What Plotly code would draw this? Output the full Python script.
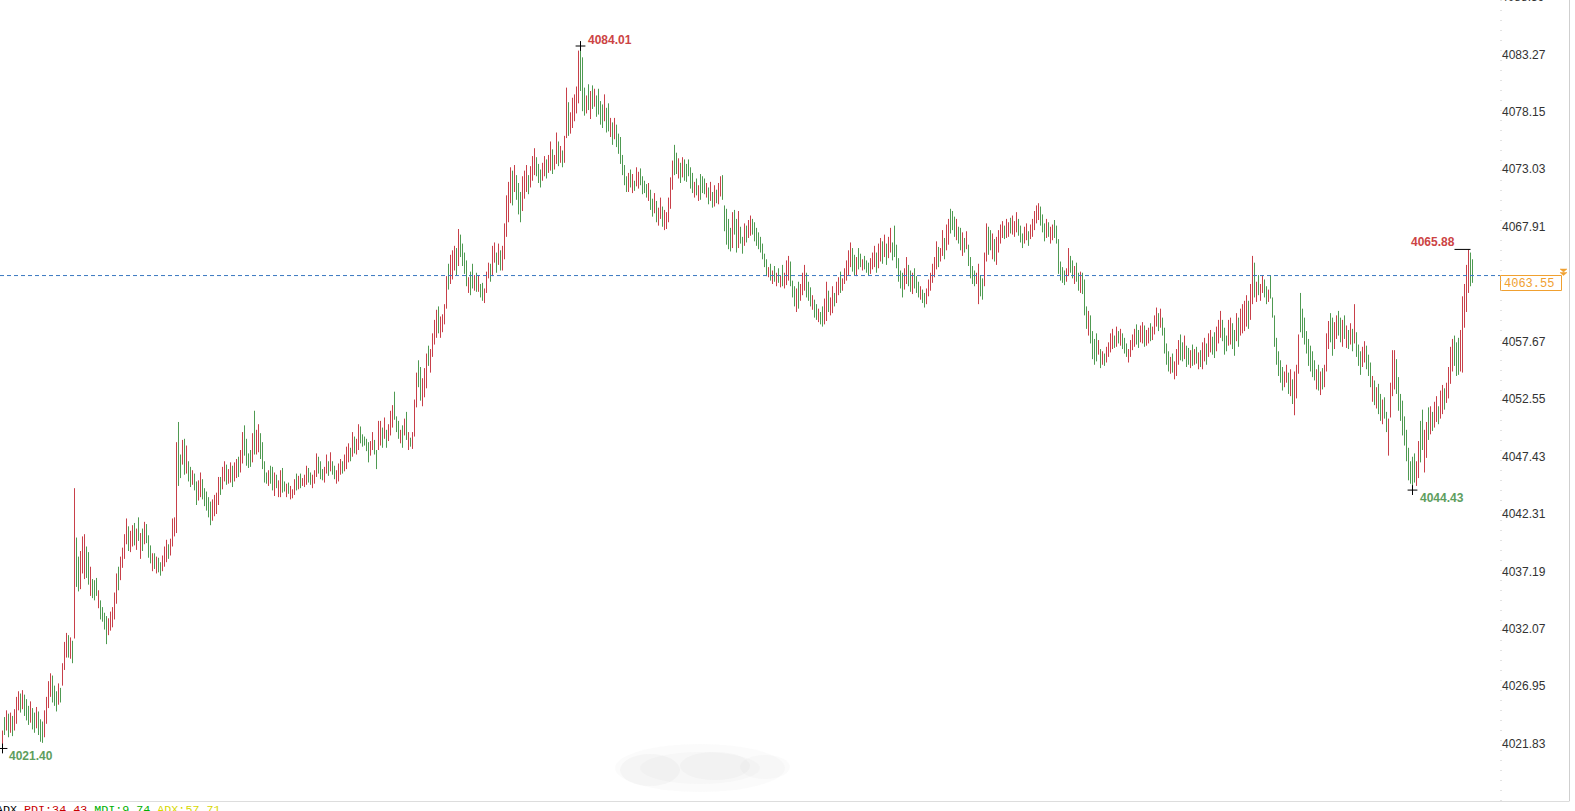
import plotly.graph_objects as go

# ---------------- data ----------------
high = [
    4023.0, 4024.2, 4024.8, 4024.5, 4024.6, 4024.3, 4024.9, 4026.0, 4026.5, 4026.3,
    4026.6, 4026.2, 4025.8, 4025.2, 4025.6, 4025.0, 4024.6, 4025.1, 4024.7, 4024.0,
    4023.8, 4024.8, 4026.0, 4027.4, 4028.1, 4027.9, 4027.0, 4026.5, 4027.2, 4026.8,
    4029.0, 4030.9, 4031.7, 4031.5, 4031.3, 4031.0, 4044.6, 4040.2, 4038.5, 4039.0,
    4040.3, 4040.5, 4039.4, 4038.9, 4037.6, 4036.5, 4036.4, 4036.6, 4035.5, 4034.6,
    4034.0, 4033.5, 4033.2, 4033.0, 4033.6, 4034.0, 4035.3, 4037.0, 4037.6, 4038.5,
    4039.3, 4040.5, 4041.9, 4041.2, 4040.8, 4041.3, 4041.5, 4041.0, 4042.0, 4040.6,
    4041.0, 4041.6, 4041.4, 4040.4, 4039.5, 4038.8, 4038.8, 4038.5, 4038.4, 4038.0,
    4038.6, 4039.4, 4040.0, 4039.6, 4040.1, 4041.9, 4042.0, 4048.7, 4050.5, 4047.6,
    4048.9, 4049.0, 4048.4, 4047.0, 4046.5, 4046.2, 4045.9, 4045.2, 4045.3, 4046.0,
    4045.4, 4044.6, 4044.3, 4043.8, 4043.4, 4043.6, 4044.0, 4044.2, 4045.6, 4045.6,
    4046.5, 4047.0, 4046.7, 4046.3, 4046.9, 4046.6, 4046.9, 4047.2, 4047.4, 4048.0,
    4049.6, 4050.2, 4049.0, 4047.7, 4048.0, 4049.5, 4051.5, 4049.8, 4050.3, 4049.5,
    4048.7, 4047.0, 4046.0, 4046.2, 4046.6, 4046.5, 4046.0, 4045.8, 4045.3, 4046.2,
    4046.4, 4045.2, 4045.0, 4045.1, 4044.8, 4044.5, 4045.4, 4045.9, 4045.7, 4045.9,
    4045.5, 4045.8, 4046.6, 4046.4, 4046.0, 4045.8, 4046.2, 4047.7, 4047.4, 4047.0,
    4046.3, 4046.5, 4047.6, 4047.0, 4047.8, 4047.0, 4046.6, 4046.2, 4046.8, 4047.2,
    4047.0, 4047.6, 4048.3, 4048.6, 4048.2, 4049.6, 4049.2, 4049.0, 4050.3, 4050.1,
    4049.4, 4049.2, 4049.0, 4048.7, 4048.8, 4049.6, 4048.9, 4048.0, 4050.6, 4050.6,
    4050.0, 4050.9, 4049.8, 4050.3, 4051.5, 4052.0, 4053.2, 4051.0, 4050.6, 4049.8,
    4050.2, 4050.8, 4051.4, 4049.6, 4049.1, 4049.6, 4052.5, 4054.9, 4056.0, 4055.4,
    4054.4, 4055.3, 4056.6, 4057.3, 4057.0, 4058.4, 4059.6, 4060.5, 4060.8, 4059.9,
    4060.1, 4061.0, 4063.5, 4064.6, 4065.4, 4065.8, 4066.2, 4066.0, 4067.7, 4067.2,
    4066.4, 4065.6, 4064.9, 4063.4, 4063.9, 4064.6, 4063.6, 4063.8, 4063.6, 4062.8,
    4062.9, 4062.4, 4063.9, 4064.7, 4064.6, 4066.2, 4066.5, 4065.6, 4066.4, 4065.8,
    4066.2, 4068.2, 4070.7, 4071.9, 4073.2, 4072.9, 4073.4, 4072.5, 4071.8, 4071.0,
    4072.4, 4072.9, 4073.4, 4072.5, 4073.3, 4074.2, 4074.9, 4074.1, 4073.5, 4073.0,
    4073.6, 4074.2, 4073.9, 4074.3, 4075.5, 4074.8, 4074.3, 4076.3, 4075.5, 4075.1,
    4074.7, 4076.0, 4080.3, 4079.0, 4078.1, 4079.4, 4079.7, 4080.4, 4083.6, 4084.01,
    4083.0, 4080.3, 4079.6, 4080.6, 4080.0, 4080.5, 4080.2, 4079.6, 4080.2, 4079.1,
    4078.8, 4079.7, 4078.5, 4078.9, 4077.6, 4077.2, 4077.6, 4077.0, 4076.2, 4075.9,
    4074.3, 4073.4, 4072.4, 4072.7, 4073.0, 4072.6, 4072.0, 4073.2, 4072.8, 4073.1,
    4072.4, 4072.0, 4071.7, 4071.8, 4071.2, 4070.4, 4070.9, 4070.2, 4069.6, 4070.5,
    4069.7, 4069.4, 4069.2, 4070.5, 4072.3, 4073.8, 4075.2, 4074.5, 4074.0, 4073.6,
    4074.1, 4073.9, 4073.5, 4073.9, 4073.2, 4072.7, 4071.9, 4072.2, 4071.6, 4072.6,
    4072.4, 4072.2, 4071.8, 4071.4, 4071.9, 4071.0, 4071.6, 4071.2, 4071.8, 4072.4,
    4072.5, 4069.8, 4069.5, 4068.6, 4067.8, 4069.2, 4069.4, 4068.6, 4069.3, 4067.9,
    4067.0, 4068.2, 4068.0, 4068.5, 4068.9, 4068.6, 4068.3, 4067.8, 4067.4, 4067.0,
    4066.4, 4065.5, 4065.0, 4064.3, 4064.6, 4064.0, 4064.4, 4063.8, 4064.2, 4063.6,
    4064.5, 4063.8, 4064.9, 4065.3, 4064.8, 4063.1, 4062.6, 4062.4, 4063.0, 4062.8,
    4063.8, 4064.5, 4063.8, 4063.0, 4062.5, 4061.8, 4061.4, 4061.0, 4060.6, 4060.3,
    4060.8, 4061.5, 4063.0, 4062.2, 4061.6, 4062.6, 4062.0, 4063.0, 4063.4, 4063.9,
    4063.3, 4064.2, 4064.9, 4065.8, 4066.5, 4066.0, 4065.4, 4065.2, 4066.0, 4065.5,
    4065.0, 4065.3, 4064.9, 4064.7, 4065.1, 4065.6, 4066.2, 4065.6, 4066.4, 4066.9,
    4066.6, 4067.2, 4066.4, 4067.0, 4067.8, 4066.5, 4068.0, 4066.3, 4065.1, 4064.0,
    4063.8, 4064.2, 4065.2, 4064.5, 4064.0, 4063.8, 4064.2, 4063.5, 4063.0, 4062.6,
    4062.3, 4062.0, 4062.4, 4063.2, 4063.8, 4064.6, 4065.2, 4066.6, 4066.1, 4066.0,
    4067.6, 4066.9, 4068.1, 4068.6, 4069.5, 4069.3, 4068.8, 4068.6, 4067.9, 4067.8,
    4067.4, 4066.9, 4067.5, 4066.3, 4065.2, 4064.4, 4064.0, 4063.8, 4064.6, 4063.6,
    4063.3, 4065.6, 4068.2, 4067.9, 4067.6, 4067.3, 4066.8, 4067.0, 4067.6, 4068.1,
    4068.4, 4068.0, 4068.6, 4068.3, 4068.7, 4068.9, 4068.4, 4069.2, 4068.6, 4068.0,
    4067.3, 4067.9, 4068.2, 4067.5, 4068.1, 4068.6, 4069.3, 4069.8, 4070.0, 4069.7,
    4069.0, 4068.2, 4068.6, 4068.3, 4067.9, 4068.1, 4068.5, 4068.0, 4066.8, 4064.8,
    4064.3, 4064.0, 4064.2, 4066.0, 4065.3, 4064.9, 4064.4, 4064.7, 4063.8, 4063.9,
    4063.8, 4063.2, 4060.8, 4060.4, 4060.0, 4058.6, 4057.9, 4058.4, 4057.8, 4057.0,
    4056.8, 4056.6, 4057.2, 4057.6, 4058.4, 4058.8, 4058.2, 4059.0, 4058.6, 4058.8,
    4058.4, 4058.0, 4057.5, 4057.0, 4057.8, 4058.3, 4058.8, 4059.2, 4058.7, 4059.1,
    4059.4, 4059.1, 4058.7, 4058.9, 4059.3, 4059.0, 4060.0, 4060.7, 4060.2, 4060.6,
    4059.8, 4058.9, 4057.5, 4056.8, 4056.3, 4056.6, 4055.9, 4057.0, 4057.8, 4058.3,
    4057.6, 4058.2, 4057.3, 4057.1, 4056.9, 4057.4, 4057.0, 4057.2, 4056.7, 4056.9,
    4057.6, 4058.0, 4057.5, 4058.4, 4058.7, 4058.1, 4058.5, 4059.0, 4059.6, 4060.4,
    4059.6, 4058.9, 4058.2, 4059.6, 4059.8, 4059.3, 4058.7, 4060.2, 4059.8, 4060.6,
    4061.0, 4061.3, 4061.8, 4061.3, 4062.8, 4065.3, 4064.7, 4063.0, 4063.6, 4062.8,
    4063.6, 4063.2, 4062.6, 4062.3, 4063.6, 4061.6, 4060.0, 4058.0, 4056.8, 4056.0,
    4055.4, 4055.0, 4055.6, 4054.9, 4055.2, 4054.3, 4055.0, 4055.6, 4058.3, 4062.0,
    4060.6, 4059.8, 4058.6, 4057.9, 4057.3, 4056.8, 4056.0, 4055.2, 4055.6, 4055.0,
    4055.3, 4055.6, 4058.4, 4059.5, 4060.2, 4059.8, 4059.4, 4060.0, 4060.4, 4059.8,
    4059.6, 4060.0, 4059.1, 4058.7, 4059.3, 4058.8, 4061.0, 4058.5, 4057.4, 4056.8,
    4057.2, 4057.7, 4057.3, 4056.5, 4055.8, 4054.6, 4054.2, 4053.6, 4053.9, 4053.0,
    4052.5, 4052.7, 4051.4, 4050.8, 4054.0, 4056.9, 4056.9, 4056.1, 4054.5, 4053.0,
    4052.4, 4051.0, 4049.8, 4048.2, 4047.0, 4047.4, 4047.7, 4047.0, 4048.8, 4050.6,
    4051.6, 4049.8, 4050.5, 4051.8, 4051.9, 4051.4, 4052.3, 4052.8, 4051.9, 4053.3,
    4053.8, 4053.5, 4054.0, 4055.4, 4057.2, 4057.9, 4058.2, 4057.6, 4058.0, 4058.7,
    4061.7, 4062.8, 4064.5, 4065.88, 4065.6, 4065.0,
]

low = [
    4021.4, 4022.6, 4023.0, 4022.4, 4022.8, 4022.5, 4023.0, 4023.6, 4024.8, 4024.6,
    4024.9, 4024.3, 4023.9, 4023.5, 4023.7, 4023.1, 4022.8, 4023.2, 4022.6, 4022.0,
    4021.9, 4022.4, 4023.6, 4025.0, 4026.0, 4025.5, 4025.2, 4024.7, 4025.3, 4025.5,
    4027.0, 4028.4, 4029.5, 4029.5, 4029.4, 4029.0, 4031.2, 4035.8, 4035.4, 4035.6,
    4037.0, 4036.5, 4036.6, 4036.0, 4035.0, 4034.8, 4034.6, 4035.0, 4033.9, 4032.9,
    4032.7, 4032.0, 4030.7, 4031.5, 4031.9, 4032.2, 4032.9, 4034.3, 4035.5, 4036.4,
    4037.5, 4038.3, 4039.6, 4039.0, 4038.9, 4039.4, 4039.5, 4039.1, 4039.9, 4038.3,
    4039.0, 4039.6, 4039.7, 4038.4, 4037.9, 4037.2, 4037.4, 4037.0, 4037.1, 4036.8,
    4037.2, 4037.6, 4038.0, 4038.3, 4038.6, 4039.4, 4040.3, 4040.6, 4044.8, 4045.5,
    4046.7, 4045.8, 4045.9, 4045.2, 4044.7, 4044.9, 4044.4, 4043.1, 4043.5, 4043.8,
    4043.6, 4043.0, 4042.6, 4042.0, 4041.3, 4041.7, 4042.1, 4042.3, 4043.1, 4044.0,
    4044.5, 4045.2, 4044.9, 4045.0, 4045.1, 4044.7, 4045.2, 4045.5, 4045.6, 4046.0,
    4046.8, 4047.5, 4046.6, 4046.4, 4046.5, 4046.9, 4047.6, 4047.6, 4047.8, 4047.2,
    4046.3, 4045.1, 4045.0, 4044.8, 4045.0, 4044.4, 4043.9, 4044.6, 4043.8, 4043.8,
    4044.2, 4044.3, 4043.8, 4044.1, 4043.6, 4043.7, 4044.0, 4044.4, 4044.5, 4044.6,
    4044.8, 4044.7, 4044.9, 4045.1, 4044.9, 4044.6, 4045.0, 4045.6, 4045.9, 4045.4,
    4045.3, 4045.1, 4045.9, 4045.7, 4046.1, 4045.8, 4045.4, 4045.0, 4045.2, 4045.8,
    4045.9, 4046.1, 4046.3, 4046.9, 4047.0, 4047.4, 4047.7, 4047.6, 4048.0, 4048.6,
    4048.3, 4048.4, 4047.9, 4046.9, 4047.5, 4048.0, 4047.6, 4046.3, 4048.0, 4048.4,
    4048.2, 4049.0, 4048.2, 4048.8, 4049.3, 4050.0, 4050.7, 4049.6, 4049.0, 4048.6,
    4048.2, 4049.3, 4048.9, 4048.0, 4048.3, 4048.1, 4049.2, 4051.8, 4053.6, 4052.4,
    4051.9, 4052.7, 4053.5, 4055.5, 4054.9, 4056.3, 4057.4, 4058.0, 4058.4, 4058.0,
    4058.5, 4059.2, 4060.6, 4062.3, 4062.8, 4063.2, 4064.0, 4063.6, 4064.4, 4065.2,
    4064.4, 4063.7, 4062.6, 4062.0, 4061.8, 4062.4, 4062.2, 4062.1, 4062.1, 4061.6,
    4061.3, 4061.1, 4062.0, 4063.3, 4063.0, 4063.5, 4064.7, 4063.8, 4064.5, 4064.0,
    4064.0, 4065.0, 4067.0, 4068.3, 4070.0, 4069.8, 4071.0, 4070.3, 4069.0, 4068.3,
    4069.3, 4070.4, 4071.0, 4070.8, 4071.4, 4072.0, 4072.5, 4072.4, 4071.8, 4071.4,
    4072.0, 4072.4, 4072.2, 4072.7, 4072.9, 4072.6, 4073.0, 4073.5, 4073.3, 4073.6,
    4073.2, 4073.6, 4075.8, 4076.0, 4076.2, 4076.7, 4077.3, 4078.0, 4078.9, 4080.0,
    4078.2, 4077.8, 4078.0, 4078.3, 4077.5, 4078.4, 4078.6, 4077.7, 4077.9, 4077.0,
    4076.7, 4077.3, 4076.3, 4076.4, 4075.9, 4075.2, 4075.7, 4075.0, 4074.4, 4073.5,
    4072.5, 4071.6, 4071.0, 4071.0, 4071.4, 4070.9, 4071.1, 4071.5, 4071.3, 4071.6,
    4070.8, 4070.9, 4070.5, 4070.2, 4069.4, 4068.8, 4069.1, 4068.3, 4068.0, 4068.6,
    4067.9, 4067.6, 4067.7, 4068.3, 4069.5, 4071.2, 4072.5, 4072.6, 4072.2, 4071.8,
    4072.3, 4072.0, 4071.9, 4072.4, 4071.3, 4070.9, 4070.5, 4070.7, 4070.2, 4070.3,
    4070.9, 4070.8, 4070.5, 4069.9, 4070.2, 4069.6, 4069.7, 4070.0, 4069.9, 4070.6,
    4070.3, 4067.5, 4066.3, 4065.9, 4065.7, 4066.0, 4067.2, 4065.6, 4066.0, 4066.4,
    4065.5, 4066.2, 4066.5, 4066.9, 4067.1, 4067.2, 4066.6, 4066.2, 4065.9, 4065.6,
    4065.0, 4064.3, 4063.5, 4063.4, 4063.1, 4062.8, 4063.0, 4062.6, 4062.9, 4062.5,
    4062.6, 4062.4, 4062.7, 4063.1, 4062.6, 4061.6, 4060.8, 4060.3, 4060.6, 4061.3,
    4061.8, 4062.2, 4061.6, 4061.3, 4060.8, 4060.5, 4059.8, 4059.6, 4059.4, 4059.2,
    4059.0, 4059.2, 4059.5, 4060.3, 4060.0, 4060.2, 4060.8, 4061.1, 4061.8, 4062.0,
    4062.2, 4062.8, 4063.1, 4063.6, 4064.3, 4063.9, 4063.6, 4063.5, 4064.1, 4064.3,
    4064.0, 4064.1, 4063.8, 4063.6, 4063.7, 4064.1, 4064.3, 4063.8, 4064.2, 4064.8,
    4064.6, 4065.2, 4064.5, 4065.1, 4065.6, 4064.9, 4065.2, 4064.2, 4063.0, 4062.4,
    4061.6, 4062.3, 4062.8, 4062.6, 4062.1, 4061.9, 4062.4, 4062.0, 4061.6, 4061.4,
    4061.1, 4060.7, 4061.0, 4061.7, 4062.2, 4062.9, 4063.4, 4064.1, 4064.3, 4064.8,
    4065.3, 4065.0, 4065.8, 4066.3, 4067.3, 4067.6, 4067.0, 4066.7, 4066.4, 4065.8,
    4065.3, 4065.6, 4065.9, 4064.4, 4063.3, 4062.8, 4062.6, 4062.8, 4061.0, 4061.7,
    4061.4, 4062.6, 4064.8, 4065.4, 4065.8, 4065.0, 4064.8, 4064.5, 4065.6, 4066.4,
    4066.9, 4066.8, 4066.9, 4067.0, 4067.3, 4067.2, 4067.0, 4067.4, 4067.1, 4066.5,
    4066.0, 4066.4, 4066.7, 4066.2, 4066.8, 4067.0, 4067.6, 4068.2, 4068.5, 4068.0,
    4067.4, 4066.6, 4066.9, 4067.0, 4066.4, 4066.7, 4066.9, 4066.4, 4063.7, 4063.1,
    4062.9, 4062.7, 4063.0, 4063.5, 4063.8, 4063.3, 4062.8, 4063.0, 4062.2, 4062.0,
    4061.9, 4060.0, 4058.8, 4058.2, 4057.5, 4056.1, 4055.6, 4055.9, 4056.5, 4055.3,
    4055.6, 4055.5, 4055.8, 4056.3, 4056.7, 4057.0, 4057.1, 4057.2, 4057.5, 4057.3,
    4057.0, 4056.6, 4056.3, 4055.8, 4056.3, 4056.9, 4057.2, 4057.4, 4057.1, 4057.6,
    4057.5, 4057.2, 4057.3, 4057.5, 4057.7, 4057.8, 4058.3, 4059.0, 4058.6, 4058.9,
    4058.2, 4056.6, 4055.6, 4055.0, 4054.8, 4054.9, 4054.3, 4054.6, 4055.6, 4056.0,
    4055.9, 4056.1, 4055.4, 4055.6, 4055.3, 4055.5, 4055.6, 4055.7, 4055.2, 4055.4,
    4055.2, 4055.9, 4055.6, 4056.3, 4056.7, 4056.5, 4056.2, 4056.8, 4057.5, 4058.0,
    4057.7, 4056.5, 4056.8, 4057.3, 4057.4, 4057.0, 4056.4, 4057.7, 4057.2, 4058.2,
    4058.4, 4058.6, 4059.0, 4058.8, 4059.6, 4061.0, 4061.6, 4061.2, 4061.8, 4061.3,
    4062.0, 4061.6, 4061.0, 4061.2, 4061.5, 4059.8, 4057.2, 4055.6, 4054.6, 4054.0,
    4053.3, 4053.6, 4054.0, 4053.0, 4052.8, 4052.1, 4051.1, 4052.6, 4054.8, 4058.5,
    4058.0, 4057.4, 4056.6, 4055.5, 4055.0, 4054.5, 4054.2, 4053.4, 4053.3, 4052.9,
    4053.4, 4053.6, 4055.0, 4057.0, 4057.6, 4056.4, 4057.0, 4057.9, 4058.2, 4057.6,
    4057.2, 4057.9, 4057.1, 4057.0, 4057.4, 4056.8, 4057.5, 4056.3, 4055.5, 4054.7,
    4055.4, 4055.8, 4055.2, 4054.6, 4053.6, 4052.3, 4052.0, 4051.7, 4051.2, 4050.6,
    4050.3, 4050.8, 4049.6, 4047.5, 4050.9, 4052.8, 4053.4, 4053.0, 4051.5, 4050.6,
    4049.3, 4048.4, 4047.0, 4045.3, 4045.0, 4044.43, 4045.1, 4044.8, 4045.5, 4046.9,
    4048.0, 4046.0, 4047.3, 4048.9, 4049.4, 4049.7, 4050.0, 4050.5, 4050.3, 4050.8,
    4051.2, 4051.6, 4052.2, 4052.6, 4053.9, 4055.0, 4055.5, 4054.6, 4054.7, 4055.0,
    4054.9, 4058.9, 4060.3, 4062.0, 4062.6, 4062.9,
]

# r = rising bar (red), g = falling bar (green)
direction = (
    "rgrgrgrrrg" "rgggrggrgg" "grrrrgggrg" "rrrgrgrggr" "rrggrgggrg"
    "gggrrrrrgr" "rrrgrrgrgr" "grgggrgrgg" "rrrgrrrrgg" "rgrggrggrr"
    "gggggrrrrg" "rrgrrgrrgr" "rggggrgrrg" "gggrggrgrr" "ggrgrrrgrg"
    "rrrggrrrgg" "grrgrggrrr" "grrrgrgrrg" "ggggrrggrr" "grgrrrgggr"
    "grgrgrrrgg" "rrrgrrrrgr" "rrrgrrrgrg" "gggrggrgrg" "grrrgrrgrg"
    "rrrrrgrggg" "rrrgrrrggg" "rrgrrgrrgr" "grrgrrrrrg" "ggrgrgrggg"
    "grggrgrggg" "gggrgrgrrg" "gggrggrgrr" "grrrrrggrg" "rgggggrgrg"
    "ggrgrgrgrr" "gggggrggrg" "grgrrggggg" "gggrgrgrgr" "grrrgggrgr"
    "rrgggrggrg" "grrgrrgrrg" "rrrrrggrgg" "rgggrrrgrr" "grgrrggggg"
    "grrggrgggr" "ggrrrrrrgr" "rgrrgggrgg" "rgrggggrrg" "grrggrgrrr"
    "rgrrgrrrgg" "grrgrrrrrg" "ggrgrrgggg" "ggrrggrggr" "gggrggggrg"
    "rgrrrrgrgr" "gggrrrrggr" "rgrrgrrrgr" "ggggrgrrrg" "grggrgrgrg"
    "rrgrrggrrr" "gggrrggrgr" "rrrgrrgrgr" "rggrgggggg" "grrgrgrrrg"
    "gggggggrgr" "grrrggrrgg" "rgrgrgrggg" "rrgggrgrgg" "rggrrrrggg"
    "gggggggrrg" "grrgrgrrgr" "rgrrrrgggr" "rrrrgg"
)

last_price = 4063.55
tick_values = [4021.83, 4026.95, 4032.07, 4037.19, 4042.31, 4047.43, 4052.55,
               4057.67, 4067.91, 4073.03, 4078.15, 4083.27]
top_cut_tick = 4088.39
indicator_text = ("ADX <span style='color:#c80000'>PDI:34.43</span> "
                  "<span style='color:#00b000'>MDI:9.74</span> "
                  "<span style='color:#d8d800'>ADX:57.71</span>")

# ---------------- build ----------------
n = min(len(high), len(low))
high = high[:n]
low = low[:n]
direction = (direction + "r" * n)[:n]
idx = list(range(n))

RED = "#c8404a"
GREEN = "#4f9a52"
LBL_RED = "#cc4444"
LBL_GREEN = "#5e9e5e"

W, H = 1575, 811
ML, MR, MT, MB = 0, 74, 0, 10
PW, PH = W - ML - MR, H - MT - MB


def px(xp):
    return (xp - ML) / PW


def py(yp):
    return (H - MB - yp) / PH


def segments(want):
    xs, ys = [], []
    for i in idx:
        if direction[i] == want:
            xs += [i, i, None]
            ys += [low[i], high[i], None]
    return xs, ys


fig = go.Figure()
for want, col in (("r", RED), ("g", GREEN)):
    xs, ys = segments(want)
    fig.add_trace(go.Scatter(x=xs, y=ys, mode="lines", line=dict(color=col, width=1),
                             hoverinfo="skip", showlegend=False, connectgaps=False))

i_max = max(range(n), key=lambda i: high[i])
i_min = min(range(n), key=lambda i: low[i])
tail = 600
i_tmax = max(range(tail, n), key=lambda i: high[i])
i_tmin = min(range(tail, n), key=lambda i: low[i])

fig.add_trace(go.Scatter(
    x=[i_max, i_min, i_tmin], y=[high[i_max], low[i_min], low[i_tmin]],
    mode="markers", hoverinfo="skip", showlegend=False,
    marker=dict(symbol="cross-thin", size=7, line=dict(color="black", width=1)),
    cliponaxis=False,
))
fig.add_trace(go.Scatter(
    x=[i_tmax - 7, i_tmax + 1], y=[high[i_tmax], high[i_tmax]],
    mode="lines", line=dict(color="black", width=1),
    hoverinfo="skip", showlegend=False,
))

ann = []
bold = dict(family="Arial, Liberation Sans", size=12, weight="bold")
ann.append(dict(x=i_max, y=high[i_max], text=f"{high[i_max]:.2f}", showarrow=False,
                xanchor="left", yanchor="middle", xshift=5, yshift=6,
                font=dict(**bold, color=LBL_RED)))
ann.append(dict(x=i_min, y=low[i_min], text=f"{low[i_min]:.2f}", showarrow=False,
                xanchor="left", yanchor="middle", xshift=4, yshift=-8,
                font=dict(**bold, color=LBL_GREEN)))
ann.append(dict(x=i_tmax, y=high[i_tmax], text=f"{high[i_tmax]:.2f}", showarrow=False,
                xanchor="right", yanchor="middle", xshift=-12, yshift=7,
                font=dict(**bold, color=LBL_RED)))
ann.append(dict(x=i_tmin, y=low[i_tmin], text=f"{low[i_tmin]:.2f}", showarrow=False,
                xanchor="left", yanchor="middle", xshift=5, yshift=-8,
                font=dict(**bold, color=LBL_GREEN)))
# price-axis label cut at the top of the window
ann.append(dict(x=1, xref="paper", y=py(-3.1), yref="paper", text=f"{top_cut_tick:.2f}",
                showarrow=False, xanchor="left", yanchor="middle", xshift=-2,
                font=dict(family="Arial, Liberation Sans", size=12, color="#333333")))
# current price box text
ann.append(dict(x=px(1502), xref="paper", y=py(283.5), yref="paper", text=f"{last_price:.2f}",
                showarrow=False, xanchor="left", yanchor="middle",
                font=dict(family="Liberation Mono", size=12, color="#f0a030")))
# indicator line at the bottom (cut by the window)
ann.append(dict(x=0, xref="paper", y=py(810), yref="paper", text=indicator_text,
                showarrow=False, xanchor="left", yanchor="middle", xshift=-6,
                font=dict(family="Liberation Mono", size=11.7, color="#000000")))

shapes = []
# faint watermark smudge
for (cx, cy, rx, ry, a) in ((700, 768, 85, 24, 0.06), (700, 768, 60, 16, 0.06),
                            (650, 770, 30, 16, 0.08), (715, 766, 35, 14, 0.07),
                            (765, 767, 25, 12, 0.05)):
    shapes.append(dict(type="circle", xref="paper", yref="paper",
                       x0=px(cx - rx), x1=px(cx + rx), y0=py(cy + ry), y1=py(cy - ry),
                       fillcolor=f"rgba(180,180,180,{a})", line=dict(width=0), layer="below"))
# current price dashed line
shapes.append(dict(type="line", xref="paper", yref="y", x0=0, x1=px(1500),
                   y0=last_price, y1=last_price,
                   line=dict(color="#3a78c0", width=1, dash="4px,3px")))
# price box
shapes.append(dict(type="rect", xref="paper", yref="paper", x0=px(1500.5), x1=px(1561.5),
                   y0=py(290.5), y1=py(275.5),
                   line=dict(color="#f0a030", width=1), fillcolor="white"))
# dotted separator by the price axis
shapes.append(dict(type="line", xref="paper", yref="paper", x0=1, x1=1, y0=0, y1=1,
                   line=dict(color="#c8c8c8", width=1, dash="1px,9px")))
# right border and bottom border
shapes.append(dict(type="line", xref="paper", yref="paper", x0=px(1569.5), x1=px(1569.5),
                   y0=py(801), y1=py(0), line=dict(color="#cfcfcf", width=1)))
shapes.append(dict(type="line", xref="paper", yref="paper", x0=0, x1=px(1569.5),
                   y0=py(801.5), y1=py(801.5), line=dict(color="#dddddd", width=1)))
# orange double-arrow icon
tri = (f"M {px(1560)},{py(269)} L {px(1567)},{py(269)} L {px(1563.5)},{py(272)} Z "
       f"M {px(1560)},{py(272.5)} L {px(1567)},{py(272.5)} L {px(1563.5)},{py(275.5)} Z")
shapes.append(dict(type="path", xref="paper", yref="paper", path=tri,
                   fillcolor="#f0a030", line=dict(color="#f0a030", width=0.5)))

y0v = 4083.27 - (PH - 54.3) / 11.22
y1v = 4083.27 + 54.3 / 11.22

fig.update_layout(
    width=W, height=H,
    margin=dict(l=ML, r=MR, t=MT, b=MB),
    paper_bgcolor="white", plot_bgcolor="white",
    showlegend=False,
    annotations=ann, shapes=shapes,
    xaxis=dict(range=[-1.25, (PW - 2.5) / 2], visible=False, fixedrange=True),
    yaxis=dict(range=[y0v, y1v], side="right", showgrid=False, zeroline=False,
               showline=False, ticks="", tickvals=tick_values,
               ticktext=[f"{v:.2f}" for v in tick_values],
               tickfont=dict(family="Arial, Liberation Sans", size=12, color="#333333"),
               fixedrange=True),
)

fig.write_html("out.html")
